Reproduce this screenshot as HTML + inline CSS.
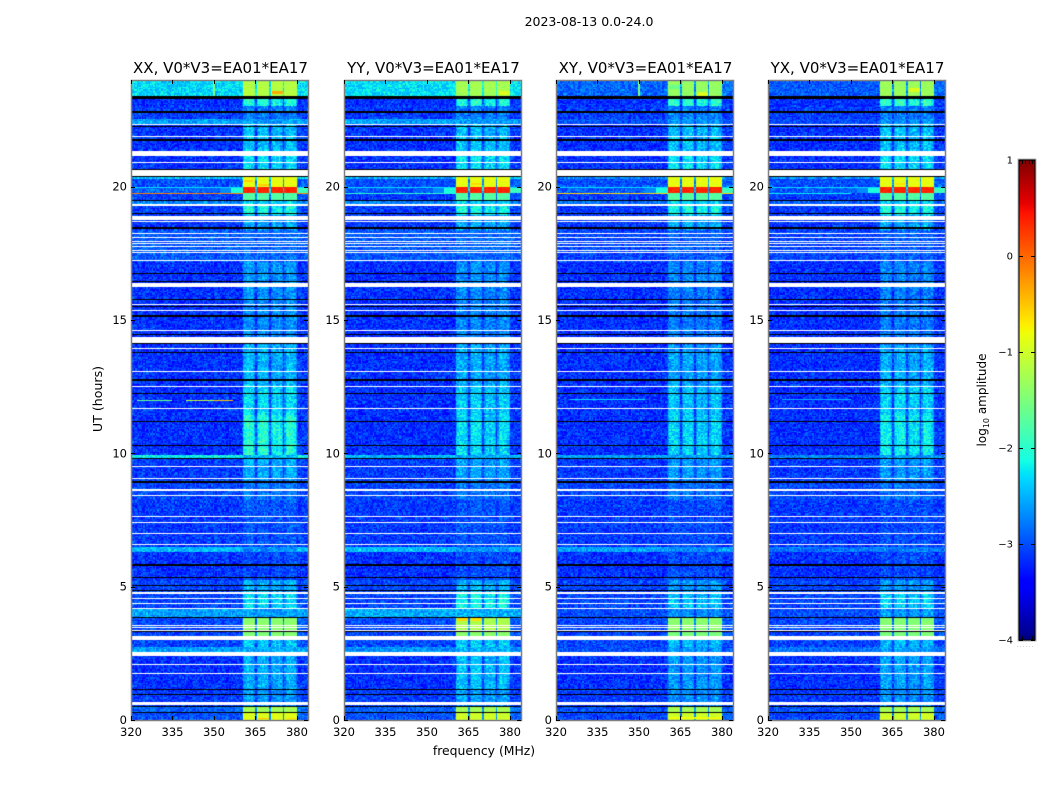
<!DOCTYPE html>
<html lang="en">
<head>
<meta charset="utf-8">
<title>2023-08-13 0.0-24.0</title>
<style>
html,body{margin:0;padding:0;background:#fff;}
#figure{position:relative;width:1050px;height:800px;overflow:hidden;background:#fff;font-family:"DejaVu Sans","Liberation Sans",sans-serif;}
canvas{position:absolute;display:block;}
svg{position:absolute;left:0;top:0;}
text{font-family:"DejaVu Sans","Liberation Sans",sans-serif;fill:#000;}
</style>
</head>
<body>
<div id="figure">
<svg id="overlay" width="1050" height="800"></svg>
</div>
<script>
// ---------- chart data ----------
const polarizations = ["XX", "YY", "XY", "YX"];
const panelTitles = ["XX, V0*V3=EA01*EA17", "YY, V0*V3=EA01*EA17", "XY, V0*V3=EA01*EA17", "YX, V0*V3=EA01*EA17"];
const freqTicks = [320, 335, 350, 365, 380];
const hourTicks = [0, 5, 10, 15, 20];
const colorbarTicks = [-4, -3, -2, -1, 0, 1];

// time segment edges, hours, top to bottom
const segmentEdges = [24.00,23.40,23.03,22.54,22.35,21.34,20.63,20.29,19.98,19.75,19.50,19.28,18.94,18.38,17.18,16.13,14.06,12.56,11.44,9.94,9.79,9.00,8.25,6.49,6.30,5.25,4.80,4.20,3.86,3.30,3.00,2.74,2.55,1.13,0.68,0.50,0.27,0.00];
// log10 amplitude outside the 360-380 MHz block
const baseXX = [-2.35,-3.15,-3.10,-2.60,-3.15,-3.15,-2.45,-3.00,-2.90,-3.10,-2.70,-3.10,-3.10,-2.95,-3.15,-3.15,-3.15,-3.15,-3.15,-2.20,-3.10,-3.05,-3.10,-2.45,-3.15,-3.05,-3.05,-2.60,-3.05,-3.05,-3.05,-2.60,-3.15,-3.10,-3.10,-2.90,-3.00];
const baseYY = [-2.30,-3.15,-3.10,-2.60,-3.15,-3.15,-2.55,-3.00,-2.95,-3.10,-2.75,-3.10,-3.10,-2.95,-3.15,-3.15,-3.15,-3.15,-3.15,-2.50,-3.10,-3.05,-3.10,-2.45,-3.15,-3.05,-3.05,-2.55,-3.05,-3.05,-3.05,-2.65,-3.15,-3.10,-3.10,-2.90,-3.00];
const baseXY = [-2.90,-3.15,-3.10,-3.00,-3.15,-3.15,-2.70,-3.00,-2.95,-3.10,-2.90,-3.10,-3.10,-3.05,-3.15,-3.15,-3.15,-3.15,-3.15,-2.60,-3.10,-3.05,-3.10,-2.60,-3.15,-3.05,-3.05,-3.00,-3.05,-3.05,-3.05,-3.00,-3.15,-3.10,-3.10,-3.00,-3.05];
const baseYX = [-2.95,-3.15,-3.10,-3.00,-3.15,-3.15,-2.70,-3.00,-2.95,-3.10,-2.90,-3.10,-3.10,-3.05,-3.15,-3.15,-3.15,-3.15,-3.15,-2.70,-3.10,-3.05,-3.10,-2.80,-3.15,-3.05,-3.05,-3.00,-3.05,-3.05,-3.05,-2.85,-3.15,-3.10,-3.10,-3.00,-3.05];
// log10 amplitude inside the 360-380 MHz block
const bandXX = [-1.15,-2.00,-2.75,-2.60,-2.40,-2.25,-0.85,-0.85,0.35,-1.75,-2.30,-2.05,-2.50,-2.85,-2.60,-2.65,-2.45,-2.25,-2.00,-2.50,-2.50,-2.75,-2.95,-2.70,-3.00,-2.50,-2.25,-2.60,-1.40,-1.45,-2.35,-2.50,-2.50,-2.60,-2.70,-1.25,-0.90];
const bandYY = [-1.25,-2.00,-2.75,-2.60,-2.40,-2.25,-0.85,-0.85,0.35,-1.75,-2.30,-2.05,-2.50,-2.85,-2.65,-2.70,-2.50,-2.35,-2.25,-2.55,-2.55,-2.80,-2.95,-2.70,-3.00,-2.45,-2.10,-2.50,-1.20,-1.40,-2.35,-2.50,-2.40,-2.55,-2.70,-1.25,-1.00];
const bandXY = [-1.35,-1.95,-2.75,-2.60,-2.40,-2.25,-0.85,-0.85,0.35,-1.75,-2.30,-2.05,-2.50,-2.90,-2.70,-2.75,-2.55,-2.40,-2.30,-2.60,-2.60,-2.80,-3.00,-2.75,-3.00,-2.60,-2.40,-2.65,-1.40,-1.50,-2.45,-2.55,-2.60,-2.65,-2.70,-1.25,-1.00];
const bandYX = [-1.30,-1.90,-2.75,-2.60,-2.40,-2.25,-0.85,-0.85,0.35,-1.75,-2.30,-2.05,-2.50,-2.90,-2.70,-2.75,-2.50,-2.30,-2.15,-2.60,-2.60,-2.80,-3.00,-2.75,-3.00,-2.60,-2.30,-2.60,-1.45,-1.50,-2.45,-2.55,-2.55,-2.65,-2.70,-1.25,-1.00];
// weight of the block level per 0.5 MHz channel (index 0 = 320 MHz)
const channelProfile = [0,0,0,0,0,0,0,0,0,0,0,0,0,0,0,0,0,0,0,0,0,0,0,0,0,0,0,0,0,0,0,0,0,0,0,0,0,0,0,0,0,0,0,0,0,0,0,0,0,0,0,0,0,0,0,0,0,0,0,0,0,0,0,0,0,0,0,0,0,0,0,0,0,0,0,0,0,0,0,0,
0.1,0.7,0.95,1,1,0.95,1,0.95,0.85,0.6,0.15,
0.6,0.9,1,1,1,1,1,0.95,0.7,0.15,
0.6,0.8,0.95,0.9,0.8,0.9,0.95,0.85,0.6,0.15,
0.6,0.9,1,1,1,0.95,0.95,0.85,0.6,0.1,
0.05,0.05,0.05,0.05,0.05,0.05,0.05];
// speckle read from the background texture, log10 units
const speckle = [0.22,-0.31,0.05,0.41,-0.12,-0.28,0.33,0.02,-0.37,0.18,0.52,-0.21,-0.05,0.27,-0.33,0.11,-0.18,0.38,-0.26,0.07,0.46,-0.35,-0.09,0.16,0.29,-0.23,-0.41,0.12,0.35,-0.02,-0.29,0.21,0.6,-0.15,-0.38,0.09,0.25,-0.24,0.03,0.43,-0.32,-0.07,0.19,-0.19,0.31,-0.36,0.14,0.48,-0.27,-0.11,0.24,0.01,-0.34,0.37,-0.16,0.08,-0.25,0.3,-0.04,-0.39,0.17];
// hours with no data (white), shared by all panels: low, high pairs
const gapStarts = [22.31,21.86,21.15,20.89,20.40,19.26,18.75,18.69,18.23,18.08,17.93,17.85,17.73,17.59,17.51,17.21,16.25,15.56,15.34,14.59,14.15,13.91,13.05,12.49,11.66,9.49,9.05,8.59,8.40,7.61,7.39,6.98,6.56,4.74,4.54,4.35,4.16,3.51,3.44,3.35,3.00,2.40,2.06,1.73,0.55];
const gapEnds = [22.35,21.90,21.34,20.93,20.63,19.35,18.90,18.72,18.26,18.11,17.96,17.89,17.79,17.63,17.55,17.25,16.40,15.60,15.38,14.63,14.37,13.95,13.09,12.53,11.70,9.53,9.09,8.66,8.44,7.65,7.43,7.01,6.60,4.81,4.58,4.39,4.20,3.55,3.48,3.39,3.15,2.56,2.10,1.76,0.68];
// flagged hours (black)
const flagStarts = [23.29,22.78,22.24,21.73,20.63,20.36,19.46,18.96,18.41,16.73,16.41,15.76,15.48,15.13,14.43,14.09,13.77,12.73,12.23,11.16,10.26,9.77,8.90,5.79,5.33,5.04,4.83,3.83,3.29,1.13,0.92,0.48,0.25];
const flagEnds = [23.40,22.82,22.28,21.77,20.66,20.40,19.50,19.00,18.49,16.77,16.45,15.80,15.52,15.17,14.47,14.13,13.81,12.77,12.27,11.21,10.31,9.81,8.96,5.85,5.37,5.08,4.87,3.87,3.33,1.17,0.96,0.52,0.29];
// narrowband features: hourLow, hourHigh, freqLow, freqHigh, log10 amplitude
const featuresAll = [[19.95,19.98,320,360.5,-2.3],[19.95,19.98,380,384,-2.3],[19.75,19.95,352,356,-2.7],[19.75,19.95,356,360.5,-2.1],[19.75,19.95,380,384,-1.9],[19.84,19.90,346,352,-2.9]];
const featuresXX = [[19.71,19.75,320,360.5,-0.15],[19.71,19.75,380,384,-0.15],[20.19,20.26,361,364,-0.55],[20.03,20.10,366,370,-0.55],[23.46,23.58,371,375,-0.35],[23.40,24.00,349.7,350.4,-1.5],[11.99,12.01,322,335,-1.6],[11.99,12.01,340,350,-1.1],[11.99,12.01,350,357,-0.5],[0.02,0.09,366,370,-0.5],[0.02,0.09,376,380,-0.6]];
const featuresYY = [[19.71,19.75,320,361,-2.0],[23.42,23.60,376,380,-0.9],[20.05,20.12,366,370,-0.6],[3.72,3.82,361,365,-0.6],[3.72,3.82,366,370,-0.65]];
const featuresXY = [[19.71,19.75,320,360.5,-0.6],[19.71,19.75,380,384,-0.6],[23.40,24.00,349.5,350.2,-1.5],[23.40,23.55,371,375,-0.9],[23.65,23.80,361,365,-1.6],[12.0,12.03,325,352,-2.3],[0.02,0.1,361,380,-0.8]];
const featuresYX = [[19.71,19.75,320,350,-2.2],[23.55,23.70,371,375,-0.9],[20.05,20.12,366,370,-0.65],[12.0,12.03,325,350,-2.5]];

// ---------- axes ----------
const panelLefts = [131, 344, 556, 768];
const plotWidth = 177, plotTop = 80, plotBottom = 720;
const hourMax = 24, freqMin = 320, freqMax = 384;
const channelWidthMHz = 0.5, sampleHours = 0.05;
const cbarLeft = 1019, cbarWidth = 16, cbarTop = 160, cbarBottom = 640, cbarMin = -4, cbarMax = 1;
const allBase = {XX: baseXX, YY: baseYY, XY: baseXY, YX: baseYX};
const allBand = {XX: bandXX, YY: bandYY, XY: bandXY, YX: bandYX};
const allFeatures = {XX: featuresXX, YY: featuresYY, XY: featuresXY, YX: featuresYX};

function xScale(freq, left) { return left + (freq - freqMin) / (freqMax - freqMin) * plotWidth; }
function yScale(hour) { return plotBottom - hour / hourMax * (plotBottom - plotTop); }
function cbarScale(v) { return cbarBottom - (v - cbarMin) / (cbarMax - cbarMin) * (cbarBottom - cbarTop); }

function jet(v) {
  const t = Math.max(0, Math.min(1, (v - cbarMin) / (cbarMax - cbarMin)));
  const ramp = (a) => Math.max(0, Math.min(1, a));
  const r = t < 0.35 ? 0 : t < 0.66 ? (t - 0.35) / 0.31 : t < 0.89 ? 1 : 1 - (t - 0.89) / 0.11 * 0.5;
  const g = t < 0.125 ? 0 : t < 0.375 ? (t - 0.125) / 0.25 : t < 0.64 ? 1 : t < 0.91 ? 1 - (t - 0.64) / 0.27 : 0;
  const b = t < 0.11 ? 0.5 + t / 0.11 * 0.5 : t < 0.34 ? 1 : t < 0.65 ? 1 - (t - 0.34) / 0.31 : 0;
  return "rgb(" + Math.round(ramp(r) * 255) + "," + Math.round(ramp(g) * 255) + "," + Math.round(ramp(b) * 255) + ")";
}

const figure = document.getElementById("figure");
const overlay = document.getElementById("overlay");
const NS = "http://www.w3.org/2000/svg";

function shape(tag, props) {
  const el = document.createElementNS(NS, tag);
  for (const k in props) el.setAttribute(k, props[k]);
  overlay.appendChild(el);
  return el;
}

function drawBand(ctx, left, h0, h1, f0, f1, color) {
  const x0 = Math.round(xScale(f0, left) - left), x1 = Math.max(x0 + 1, Math.round(xScale(f1, left) - left));
  const y0 = Math.round(yScale(h1) - plotTop), y1 = Math.max(y0 + 1, Math.round(yScale(h0) - plotTop));
  ctx.fillStyle = color;
  ctx.fillRect(x0, y0, x1 - x0, y1 - y0);
}

polarizations.forEach((pol, p) => {
  const left = panelLefts[p];
  const canvas = document.createElement("canvas");
  
  
  canvas.width = plotWidth;
  canvas.height = plotBottom - plotTop;
  canvas.style.left = left + "px";
  canvas.style.top = plotTop + "px";
  figure.insertBefore(canvas, overlay);
  const ctx = canvas.getContext("2d");
  ctx.fillStyle = "#fff";
  ctx.fillRect(0, 0, canvas.width, canvas.height);

  const base = allBase[pol], band = allBand[pol];
  for (let s = 0; s < base.length; s++) {
    const top = segmentEdges[s], bottom = segmentEdges[s + 1];
    const strong = band[s] > -1.8;
    for (let row = Math.floor(bottom / sampleHours); row * sampleHours < top; row++) {
      const h0 = Math.max(bottom, row * sampleHours), h1 = Math.min(top, (row + 1) * sampleHours);
      for (let ch = 0; ch < channelProfile.length; ch++) {
        let w = channelProfile[ch];
        if (strong && w >= 0.5) w = 1;
        const level = base[s] + (band[s] - base[s]) * w;
        const n = speckle[(ch * ch * 3 + row * row * 5 + ch * row + p * 17 + ch + row * 2) % speckle.length];
        const scale = level > -1.8 ? 0.18 : 0.6;
        const f0 = freqMin + ch * channelWidthMHz;
        drawBand(ctx, left, h0, h1, f0, f0 + channelWidthMHz, jet(level + n * scale));
      }
    }
  }
  featuresAll.concat(allFeatures[pol]).forEach((f) => drawBand(ctx, left, f[0], f[1], f[2], f[3], jet(f[4])));
  gapStarts.forEach((g, i) => drawBand(ctx, left, g, gapEnds[i], freqMin, freqMax, "#fff"));
  flagStarts.forEach((g, i) => drawBand(ctx, left, g, flagEnds[i], freqMin, freqMax, "#000"));

  // frame
  const frame = shape("rect", {x: left + 0.5, y: plotTop + 0.5, width: plotWidth, height: plotBottom - plotTop, fill: "none", stroke: "#808080", "stroke-width": 1.5});
  
  

  // title
  const title = shape("text", {x: left + plotWidth / 2 + 1, y: 73, "text-anchor": "middle", "font-size": 15});
  title.textContent = panelTitles[p];
  
  

  // frequency ticks
  freqTicks.forEach((f) => {
    const x = Math.round(xScale(f, left)) + 0.5;
    const bottomTick = shape("line", {x1: x, x2: x, y1: plotBottom, y2: plotBottom - 4, stroke: "#000", "stroke-width": 1});
    
    
    const topTick = shape("line", {x1: x, x2: x, y1: plotTop, y2: plotTop + 4, stroke: "#000", "stroke-width": 1});
    
    
    const label = shape("text", {x: xScale(f, left), y: 736, "text-anchor": "middle", "font-size": 11.5});
    label.textContent = f;
    
    
  });

  // hour ticks
  hourTicks.forEach((h) => {
    const y = Math.round(yScale(h)) + 0.5;
    const leftTick = shape("line", {x1: left, x2: left + 4, y1: y, y2: y, stroke: "#000", "stroke-width": 1});
    
    
    const rightTick = shape("line", {x1: left + plotWidth, x2: left + plotWidth - 4, y1: y, y2: y, stroke: "#000", "stroke-width": 1});
    
    
    const label = shape("text", {x: left - 4, y: yScale(h) + 4, "text-anchor": "end", "font-size": 11.5});
    label.textContent = h;
    
    
  });
});

// figure labels
const supTitle = shape("text", {x: 589, y: 26, "text-anchor": "middle", "font-size": 12.5});
supTitle.textContent = "2023-08-13 0.0-24.0";



const xTitle = shape("text", {x: 484, y: 755, "text-anchor": "middle", "font-size": 12.4});
xTitle.textContent = "frequency (MHz)";



const yTitle = shape("text", {x: 0, y: 0, "text-anchor": "middle", "font-size": 12.6, transform: "translate(102,399) rotate(-90)"});
yTitle.textContent = "UT (hours)";



// colorbar
for (let i = 0; i < 240; i++) {
  const v = cbarMin + (i + 0.5) / 240 * (cbarMax - cbarMin);
  const step = (cbarMax - cbarMin) / 240;
  const swatch = shape("rect", {x: cbarLeft, y: cbarScale(v + step / 2), width: cbarWidth, height: cbarScale(v - step / 2) - cbarScale(v + step / 2) + 0.5, fill: jet(v)});
  
  
}
const cbarOuter = shape("rect", {x: cbarLeft - 1, y: cbarTop - 1, width: cbarWidth + 2, height: cbarBottom - cbarTop + 2, fill: "none", stroke: "#b5b5b5", "stroke-width": 1});


const cbarFrame = shape("rect", {x: cbarLeft, y: cbarTop, width: cbarWidth, height: cbarBottom - cbarTop, fill: "none", stroke: "#000", "stroke-width": 1});



colorbarTicks.forEach((v) => {
  const y = Math.round(cbarScale(v)) + 0.5;
  const tickL = shape("line", {x1: cbarLeft, x2: cbarLeft + 4, y1: y, y2: y, stroke: "#000", "stroke-width": 1});
  
  
  const tickR = shape("line", {x1: cbarLeft + cbarWidth - 4, x2: cbarLeft + cbarWidth, y1: y, y2: y, stroke: "#000", "stroke-width": 1});
  
  
  const label = shape("text", {x: 1013, y: cbarScale(v) + 3.5, "text-anchor": "end", "font-size": 10});
  label.textContent = v < 0 ? "\u2212" + Math.abs(v) : String(v);
  
  
});

const cbarMinorFractions = [0.2, 0.4, 0.6, 0.8];
cbarMinorFractions.forEach((fr) => {
  const x = Math.round(cbarLeft + fr * cbarWidth) + 0.5;
  const topMinor = shape("line", {x1: x, x2: x, y1: cbarTop, y2: cbarTop + 4, stroke: "#000", "stroke-width": 1});
  
  
  const bottomMinor = shape("line", {x1: x, x2: x, y1: cbarBottom, y2: cbarBottom - 4, stroke: "#000", "stroke-width": 1});
  
  
});

const cbarDots = shape("text", {x: 1026, y: 647, "text-anchor": "middle", "font-size": 5, "letter-spacing": 1.4, style: "fill:#777"});
cbarDots.textContent = "......";



const cbarTitle = shape("text", {x: 0, y: 0, "text-anchor": "middle", "font-size": 12, transform: "translate(986,400) rotate(-90)"});


cbarTitle.appendChild(document.createTextNode("log"));
const sub = document.createElementNS(NS, "tspan");
sub.setAttribute("font-size", "8");
sub.setAttribute("dy", "3");
sub.textContent = "10";
cbarTitle.appendChild(sub);
const rest = document.createElementNS(NS, "tspan");
rest.setAttribute("dy", "-3");
rest.textContent = " amplitude";
cbarTitle.appendChild(rest);
</script>
</body>
</html>
